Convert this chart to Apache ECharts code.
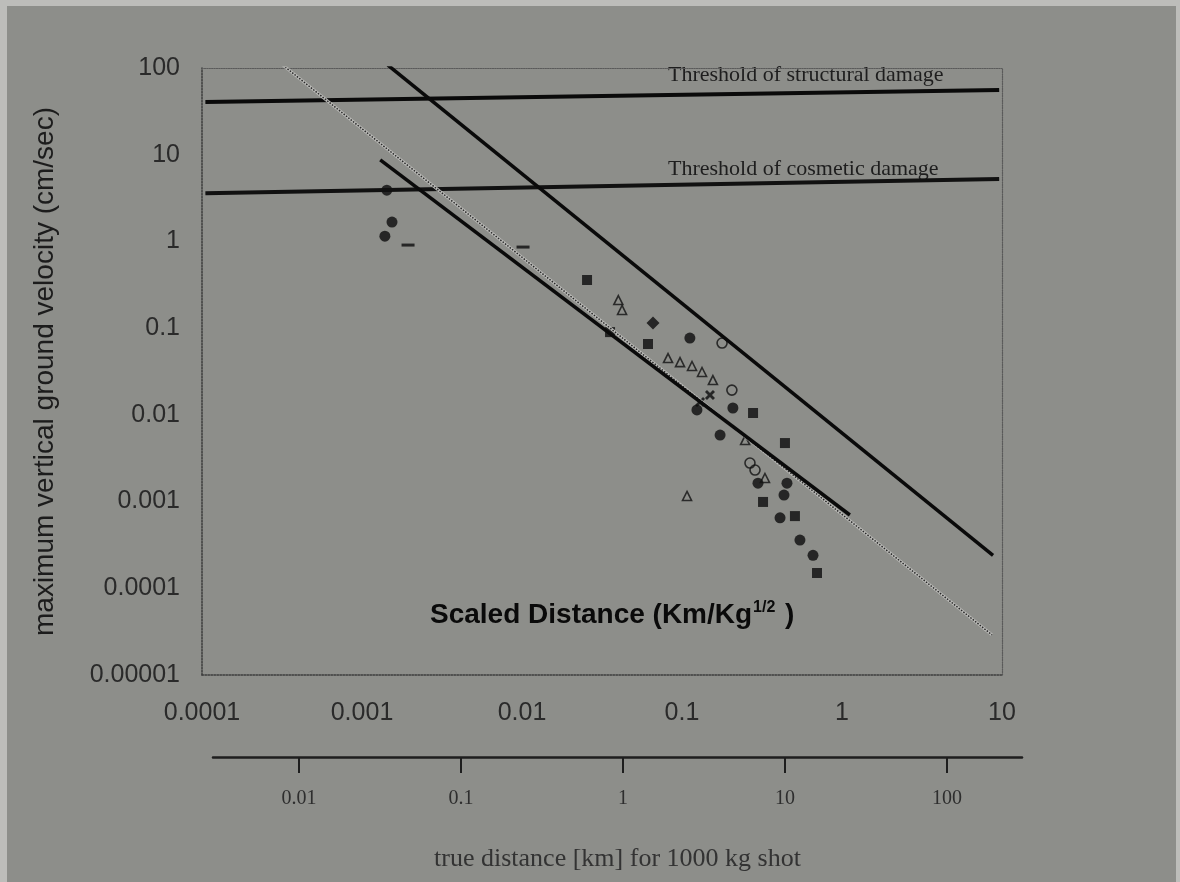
<!DOCTYPE html>
<html>
<head>
<meta charset="utf-8">
<script src="https://cdn.jsdelivr.net/npm/echarts@6/dist/echarts.min.js"></script>
<style>
  html, body { margin: 0; padding: 0; background: #bdbdba; }
  .sheet { position: absolute; left: 7px; top: 6px; right: 4px; bottom: 0; background: #8d8e8a; }
  #chart { position: absolute; left: 0; top: 0; width: 1180px; height: 882px; }
</style>
</head>
<body>
<div class="sheet"></div>
<div id="chart"></div>
<script>
// axis tick labels
const yTickLabels = ['0.00001', '0.0001', '0.001', '0.01', '0.1', '1', '10', '100']
const xTickLabels = ['0.0001', '0.001', '0.01', '0.1', '1', '10']
const trueDistLabels = ['0.01', '0.1', '1', '10', '100']

// threshold lines [scaled distance, velocity]
const structuralLine = [[0.000105, 40.5], [9.6, 55.7]]
const cosmeticLine = [[0.000105, 3.6], [9.6, 5.25]]

// attenuation lines
const upperFit = [[0.00145, 108], [8.79, 0.00024]]
const lowerFit = [[0.0013, 8.7], [1.12, 0.0007]]
const thinFit = [[0.00032, 108], [8.66, 0.000029]]

// measured points
const filledCircles = [
  [0.00154, 1.67], [0.00139, 1.15], [0.00143, 3.9], [0.112, 0.0769], [0.124, 0.0114],
  [0.208, 0.012], [0.173, 0.00585], [0.2985, 0.00163], [0.453, 0.00163], [0.434, 0.00119],
  [0.41, 0.00065], [0.546, 0.00036], [0.659, 0.00024]
]
const filledSquares = [
  [0.0255, 0.359], [0.0355, 0.09], [0.0613, 0.0656], [0.278, 0.0105], [0.44, 0.00473],
  [0.321, 0.00099], [0.508, 0.00068], [0.698, 0.00015]
]
const filledDiamonds = [[0.0659, 0.1146]]
const dashes = [[0.00194, 0.908], [0.01015, 0.861]]
const openCircles = [[0.178, 0.0673], [0.205, 0.0193], [0.266, 0.00278], [0.286, 0.00231]]
const openTriangles = [
  [0.0422, 0.162], [0.04, 0.211], [0.0818, 0.0452], [0.0972, 0.0406], [0.1155, 0.0366],
  [0.1334, 0.0312], [0.156, 0.0252], [0.248, 0.00512], [0.33, 0.00187], [0.1075, 0.00116]
]
const crosses = [[0.1496, 0.0169], [0.1296, 0.01406]]

const chart = echarts.init(document.getElementById('chart'))

const decadeLabel = (labels, firstExp) => (v) => {
  const e = Math.log10(v)
  const r = Math.round(e)
  if (Math.abs(e - r) > 1e-6) return ''
  return labels[r - firstExp] || ''
}

const frameLine = { show: true, lineStyle: { color: '#3c3c3c', type: 'dotted', width: 1.5 } }
const lineSeries = (data, width, color, type) => ({
  type: 'line', data, symbol: 'none', silent: true, clip: true,
  lineStyle: { width, color, type: type || 'solid' }
})
const pointSeries = (data, symbol, size, empty) => ({
  type: 'scatter', data, symbol, symbolSize: size, silent: true,
  itemStyle: empty
    ? { color: 'rgba(0,0,0,0)', borderColor: '#111', borderWidth: 1.6 }
    : { color: '#0d0d0d' }
})

const option = {
  backgroundColor: 'transparent',
  animation: false,
  textStyle: { fontFamily: 'Liberation Sans, Arial, sans-serif' },
  title: {
    text: '{t|Scaled Distance (Km/Kg}{s|1/2}{t| )}',
    left: 425, top: 595,
    textStyle: {
      rich: {
        t: { fontSize: 28, fontWeight: 'bold', color: '#0a0a0a', fontFamily: 'Liberation Sans' },
        s: { fontSize: 16, fontWeight: 'bold', color: '#0a0a0a', padding: [0, 2, 15, 1], fontFamily: 'Liberation Sans' }
      }
    }
  },
  grid: [
    { left: 202, right: 178, top: 68, bottom: 207 },
    { left: 213, right: 158, top: 740, bottom: 125 }
  ],
  xAxis: [
    {
      type: 'log', gridIndex: 0, min: 0.0001, max: 10, position: 'bottom',
      axisLine: frameLine, axisTick: { show: false }, splitLine: { show: false },
      axisLabel: { margin: 26, fontSize: 25, color: '#2a2a2a', formatter: decadeLabel(xTickLabels, -4) }
    },
    {
      type: 'log', gridIndex: 0, min: 0.0001, max: 10, position: 'top',
      axisLine: { show: true, lineStyle: { color: '#5a5a5a', type: 'dotted', width: 1.2 } },
      axisTick: { show: false }, axisLabel: { show: false }, splitLine: { show: false }
    },
    {
      type: 'log', gridIndex: 1, min: 0.00294, max: 290, position: 'bottom',
      axisLine: { show: true, lineStyle: { color: '#1e1e1e', width: 2.5 } },
      axisTick: { show: true, length: 16, lineStyle: { color: '#1e1e1e', width: 2 } },
      splitLine: { show: false },
      axisLabel: { margin: 32, fontSize: 20, color: '#2e2e2e', showMinLabel: false, showMaxLabel: false,
        fontFamily: 'Liberation Serif', formatter: decadeLabel(trueDistLabels, -2) },
      name: 'true distance [km] for 1000 kg shot',
      nameLocation: 'middle', nameGap: 89,
      nameTextStyle: { fontSize: 26, color: '#333', fontFamily: 'Liberation Serif' }
    }
  ],
  yAxis: [
    {
      type: 'log', gridIndex: 0, min: 0.00001, max: 100,
      axisLine: frameLine, axisTick: { show: false }, splitLine: { show: false },
      axisLabel: { margin: 22, fontSize: 25, color: '#2a2a2a', formatter: decadeLabel(yTickLabels, -5) },
      name: 'maximum vertical ground velocity (cm/sec)',
      nameLocation: 'middle', nameRotate: 90, nameGap: 143,
      nameTextStyle: { fontSize: 28, color: '#1c1c1c' }
    },
    {
      type: 'log', gridIndex: 0, min: 0.00001, max: 100, position: 'right',
      axisLine: { show: true, lineStyle: { color: '#5a5a5a', type: 'dotted', width: 1.2 } },
      axisTick: { show: false }, axisLabel: { show: false }, splitLine: { show: false }
    },
    { type: 'value', gridIndex: 1, show: false }
  ],
  graphic: [
    { type: 'text', left: 668, top: 64, style: { text: 'Threshold of structural damage', fontSize: 22, fill: '#1e1e1e', fontFamily: 'Liberation Serif' } },
    { type: 'text', left: 668, top: 158, style: { text: 'Threshold of cosmetic damage', fontSize: 22, fill: '#1e1e1e', fontFamily: 'Liberation Serif' } }
  ],
  series: [
    lineSeries(structuralLine, 4, '#0a0a0a'),
    lineSeries(cosmeticLine, 4, '#111'),
    lineSeries(thinFit, 3, '#b9b9b6'),
    lineSeries(thinFit, 1.5, '#2a2a2a', 'dotted'),
    lineSeries(upperFit, 3.5, '#0a0a0a'),
    lineSeries(lowerFit, 3.5, '#0a0a0a'),
    pointSeries(filledCircles, 'circle', 11),
    pointSeries(filledSquares, 'rect', 10),
    pointSeries(filledDiamonds, 'diamond', 13),
    pointSeries(dashes, 'rect', [13, 3]),
    pointSeries(openCircles, 'circle', 10, true),
    pointSeries(openTriangles, 'triangle', 9, true),
    pointSeries(crosses, 'path://M0,2L2,0L5,3L8,0L10,2L7,5L10,8L8,10L5,7L2,10L0,8L3,5Z', 10)
  ]
}

chart.setOption(option)
</script>
</body>
</html>
